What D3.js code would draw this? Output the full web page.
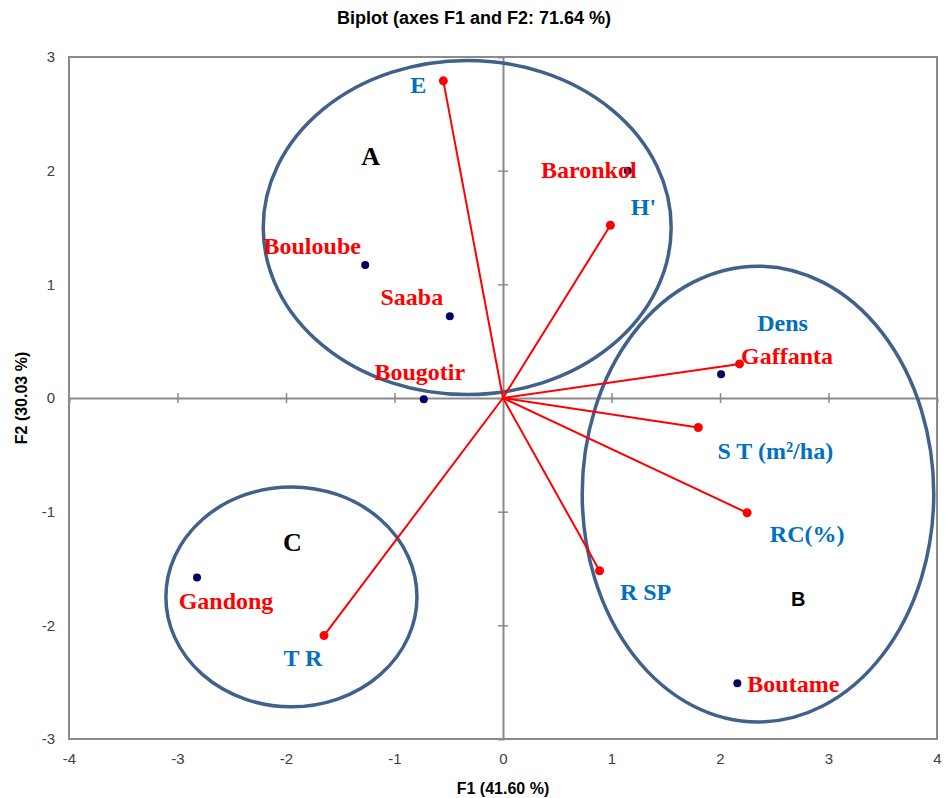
<!DOCTYPE html>
<html>
<head>
<meta charset="utf-8">
<script src="https://cdn.jsdelivr.net/npm/d3@7"></script>
<style>
  body { margin: 0; background: #fff; }
  .tick text { font-family: "Liberation Sans", Arial, sans-serif; font-size: 15px; fill: #404040; }
</style>
</head>
<body>
<div id="biplot"></div>
<script>
// Variables (red vectors)
var varNames = ["E", "H'", "Dens", "S T (m\u00b2/ha)", "RC(%)", "R SP", "T R"];
var varF1 = [-0.55, 0.99, 2.18, 1.80, 2.25, 0.89, -1.65];
var varF2 = [2.79, 1.52, 0.30, -0.26, -1.01, -1.52, -2.09];

// Observations (sites)
var obsNames = ["Baronkol", "Bouloube", "Saaba", "Bougotir", "Gaffanta", "Gandong", "Boutame"];
var obsF1 = [1.15, -1.27, -0.49, -0.73, 2.01, -2.82, 2.16];
var obsF2 = [2.00, 1.17, 0.72, -0.01, 0.21, -1.58, -2.51];

// Groups drawn as ellipses (centre and radii in axis units)
var groupNames = ["A", "B", "C"];
var groupCx = [-0.33, 2.35, -1.95];
var groupCy = [1.50, -0.845, -1.75];
var groupRx = [1.88, 1.62, 1.157];
var groupRy = [1.47, 2.005, 0.967];
var groupLabelF1 = [-1.22, 2.72, -1.94];
var groupLabelF2 = [2.05, -1.83, -1.35];

var xTicks = [-4, -3, -2, -1, 0, 1, 2, 3, 4];
var yTicks = [-3, -2, -1, 0, 1, 2, 3];

// label offsets in pixels from the point (text centre, baseline)
var varLabelOffset = [[-25, 12], [33, -10], [43, -33], [77, 31], [60, 29], [46, 29], [-21, 30]];
var obsLabelOffset = [[-39, 7], [-53, -11], [-38, -11], [-4, -19], [66, -10], [29, 31], [56, 9]];

var width = 948, height = 798;
var margin = { top: 57, right: 11, bottom: 59, left: 69 };

var svg = d3.select("#biplot").append("svg")
    .attr("width", width)
    .attr("height", height);

var x = d3.scaleLinear().domain([-4, 4]).range([margin.left, width - margin.right]);
var y = d3.scaleLinear().domain([-3, 3]).range([height - margin.bottom, margin.top]);

var grey = "#8a8a8a";

// Frame
svg.append("rect")
    .attr("x", x(-4)).attr("y", y(3))
    .attr("width", x(4) - x(-4)).attr("height", y(-3) - y(3))
    .attr("fill", "none").attr("stroke", grey).attr("stroke-width", 2);

// Zero axes with crossing ticks
var xZero = svg.append("g")
    .attr("transform", "translate(0," + y(0) + ")")
    .call(d3.axisBottom(x).tickValues(xTicks.slice(1, -1)).tickSize(5).tickFormat(""));
var yZero = svg.append("g")
    .attr("transform", "translate(" + x(0) + ",0)")
    .call(d3.axisLeft(y).tickValues(yTicks.slice(1, -1)).tickSize(5).tickFormat(""));
[xZero, yZero].forEach(function (g) {
    g.select(".domain").attr("stroke", grey).attr("stroke-width", 2);
    g.selectAll(".tick line").attr("stroke", grey).attr("stroke-width", 1.5);
});
xZero.selectAll(".tick line").attr("y1", -5).attr("y2", 5);
yZero.selectAll(".tick line").attr("x1", -5).attr("x2", 5);

// Tick labels outside the frame
var xLab = svg.append("g")
    .attr("transform", "translate(0," + y(-3) + ")")
    .call(d3.axisBottom(x).tickValues(xTicks).tickSize(0).tickPadding(14).tickFormat(function (d) { return String(d); }));
var yLab = svg.append("g")
    .attr("transform", "translate(" + x(-4) + ",0)")
    .call(d3.axisLeft(y).tickValues(yTicks).tickSize(0).tickPadding(14).tickFormat(function (d) { return String(d); }));
xLab.select(".domain").remove();
yLab.select(".domain").remove();

// Ellipses
svg.selectAll("ellipse.group")
    .data(groupNames)
    .join("ellipse")
    .attr("class", "group")
    .attr("cx", function (d, i) { return x(groupCx[i]); })
    .attr("cy", function (d, i) { return y(groupCy[i]); })
    .attr("rx", function (d, i) { return x(groupRx[i]) - x(0); })
    .attr("ry", function (d, i) { return y(0) - y(groupRy[i]); })
    .attr("fill", "none")
    .attr("stroke", "#41618c")
    .attr("stroke-width", 3.5);

svg.selectAll("text.group")
    .data(groupNames)
    .join("text")
    .attr("class", "group")
    .attr("x", function (d, i) { return x(groupLabelF1[i]); })
    .attr("y", function (d, i) { return y(groupLabelF2[i]); })
    .attr("text-anchor", "middle")
    .style("font-family", function (d) { return d === "B" ? "Liberation Sans, Arial, sans-serif" : "Liberation Serif, Times New Roman, serif"; })
    .style("font-weight", "bold")
    .style("font-size", function (d) { return d === "B" ? "20px" : "26px"; })
    .attr("fill", "#000")
    .text(function (d) { return d; });

// Variable vectors
svg.selectAll("line.vec")
    .data(varNames)
    .join("line")
    .attr("class", "vec")
    .attr("x1", x(0)).attr("y1", y(0))
    .attr("x2", function (d, i) { return x(varF1[i]); })
    .attr("y2", function (d, i) { return y(varF2[i]); })
    .attr("stroke", "#ff0000")
    .attr("stroke-width", 2);

svg.selectAll("circle.vec")
    .data(varNames)
    .join("circle")
    .attr("class", "vec")
    .attr("cx", function (d, i) { return x(varF1[i]); })
    .attr("cy", function (d, i) { return y(varF2[i]); })
    .attr("r", 4.5)
    .attr("fill", "#ff0000");

// Observation points
svg.selectAll("circle.obs")
    .data(obsNames)
    .join("circle")
    .attr("class", "obs")
    .attr("cx", function (d, i) { return x(obsF1[i]); })
    .attr("cy", function (d, i) { return y(obsF2[i]); })
    .attr("r", 4)
    .attr("fill", "#000066");

// Labels
svg.selectAll("text.vec")
    .data(varNames)
    .join("text")
    .attr("class", "vec")
    .attr("x", function (d, i) { return x(varF1[i]) + varLabelOffset[i][0]; })
    .attr("y", function (d, i) { return y(varF2[i]) + varLabelOffset[i][1]; })
    .attr("text-anchor", "middle")
    .style("font-family", "Liberation Serif, Times New Roman, serif")
    .style("font-weight", "bold")
    .style("font-size", "24px")
    .attr("fill", "#0070c0")
    .text(function (d) { return d; });

svg.selectAll("text.obs")
    .data(obsNames)
    .join("text")
    .attr("class", "obs")
    .attr("x", function (d, i) { return x(obsF1[i]) + obsLabelOffset[i][0]; })
    .attr("y", function (d, i) { return y(obsF2[i]) + obsLabelOffset[i][1]; })
    .attr("text-anchor", "middle")
    .style("font-family", "Liberation Serif, Times New Roman, serif")
    .style("font-weight", "bold")
    .style("font-size", "24px")
    .attr("fill", "#ff0000")
    .text(function (d) { return d; });

// Title and axis titles
svg.append("text")
    .attr("x", 474).attr("y", 24)
    .attr("text-anchor", "middle")
    .style("font-family", "Liberation Sans, Arial, sans-serif")
    .style("font-weight", "bold")
    .style("font-size", "18px")
    .text("Biplot (axes F1 and F2: 71.64 %)");

svg.append("text")
    .attr("x", x(0)).attr("y", 794)
    .attr("text-anchor", "middle")
    .style("font-family", "Liberation Sans, Arial, sans-serif")
    .style("font-weight", "bold")
    .style("font-size", "16px")
    .text("F1 (41.60 %)");

svg.append("text")
    .attr("transform", "rotate(-90)")
    .attr("x", -y(0)).attr("y", 27)
    .attr("text-anchor", "middle")
    .style("font-family", "Liberation Sans, Arial, sans-serif")
    .style("font-weight", "bold")
    .style("font-size", "16px")
    .text("F2 (30.03 %)");
</script>
</body>
</html>
